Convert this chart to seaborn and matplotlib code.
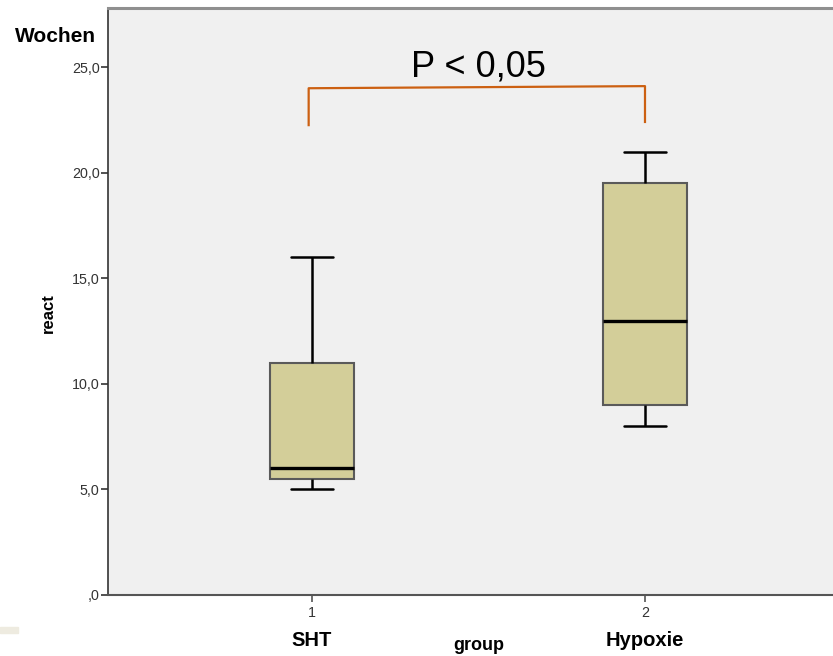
import matplotlib
matplotlib.use('Agg')

import seaborn as sns
import pandas as pd
import matplotlib.pyplot as plt
from matplotlib.patches import Rectangle

# --- data (five-number summary per group) ---
groups = [1, 2]
group_names = ["SHT", "Hypoxie"]
sht_values = [5.0, 5.5, 6.0, 11.0, 16.0]
hypoxie_values = [8.0, 9.0, 13.0, 19.5, 21.0]
y_ticks = [0, 5, 10, 15, 20, 25]
y_tick_labels = [",0", "5,0", "10,0", "15,0", "20,0", "25,0"]
p_label = "P < 0,05"

df = pd.DataFrame({
    "group": [groups[0]] * len(sht_values) + [groups[1]] * len(hypoxie_values),
    "react": sht_values + hypoxie_values,
})

sns.set_style("white")
plt.rcParams['font.family'] = ['Liberation Sans', 'DejaVu Sans']
plt.rcParams['text.color'] = 'black'

fig = plt.figure(figsize=(8.33, 6.56), dpi=100)
ax = fig.add_axes([108 / 833, 61 / 656, 725 / 833, 587 / 656])
ax.set_facecolor("#f0f0f0")

sns.boxplot(
    data=df, x="group", y="react", order=groups,
    color="#d3ce99", saturation=1, width=0.255, whis=1.5,
    linecolor="black", linewidth=2, ax=ax,
    boxprops={"edgecolor": "#5a5a5a", "linewidth": 1.5},
    medianprops={"color": "black", "linewidth": 2.4},
    whiskerprops={"color": "black", "linewidth": 1.8},
    capprops={"color": "black", "linewidth": 1.8},
)

ax.set_xlim(-0.6126, 1.5646)
ax.set_ylim(0, 27.8)
ax.set_yticks(y_ticks, labels=y_tick_labels)
ax.set_xticks([0, 1], labels=[str(g) for g in groups])
ax.tick_params(axis="y", direction="out", length=5, width=1.2, colors="#333333",
               labelsize=10.3, pad=1, left=True)
ax.tick_params(axis="x", direction="out", length=5, width=1.2, colors="#555555",
               labelsize=10.3, pad=3, bottom=True, labelcolor="#333333")
ax.set_xlabel("")
ax.set_ylabel("")

ax.spines["right"].set_visible(False)
ax.spines["top"].set_color("#8f8f8f")
ax.spines["top"].set_linewidth(2.2)
ax.spines["left"].set_color("#333333")
ax.spines["left"].set_linewidth(1.2)
ax.spines["bottom"].set_color("#555555")
ax.spines["bottom"].set_linewidth(1.5)

# group names under the tick labels
xt = ax.get_xaxis_transform()
for i, name in enumerate(group_names):
    ax.text(i, -0.0767, name, transform=xt, ha="center", va="center",
            fontsize=14.5, fontweight="bold", color="black", clip_on=False)
ax.text(0.5, -0.0852, "group", transform=xt, ha="center", va="center",
        fontsize=13, fontweight="bold", color="black", clip_on=False)

fig.text(55 / 833, 1 - 37 / 656, "Wochen", ha="center", va="center",
         fontsize=15, fontweight="bold", color="black")
fig.text(48 / 833, 1 - 313 / 656, "react", ha="center", va="center",
         rotation=90, fontsize=12, fontweight="bold", color="black")

# significance bracket
ax.plot([-0.01, -0.01, 1.0, 1.0], [22.2, 24.0, 24.1, 22.35],
        color="#cc6012", linewidth=1.6, solid_capstyle="butt", clip_on=False)
ax.text(0.5, 24.55, p_label, ha="center", va="baseline", fontsize=26, color="black")

# small beige patch in the bottom-left corner of the reference
fig.patches.append(Rectangle((0, 23 / 656), 18 / 833, 6 / 656,
                             transform=fig.transFigure, color="#eeebe0"))

plt.savefig("out.png", dpi=100)
plt.close()
